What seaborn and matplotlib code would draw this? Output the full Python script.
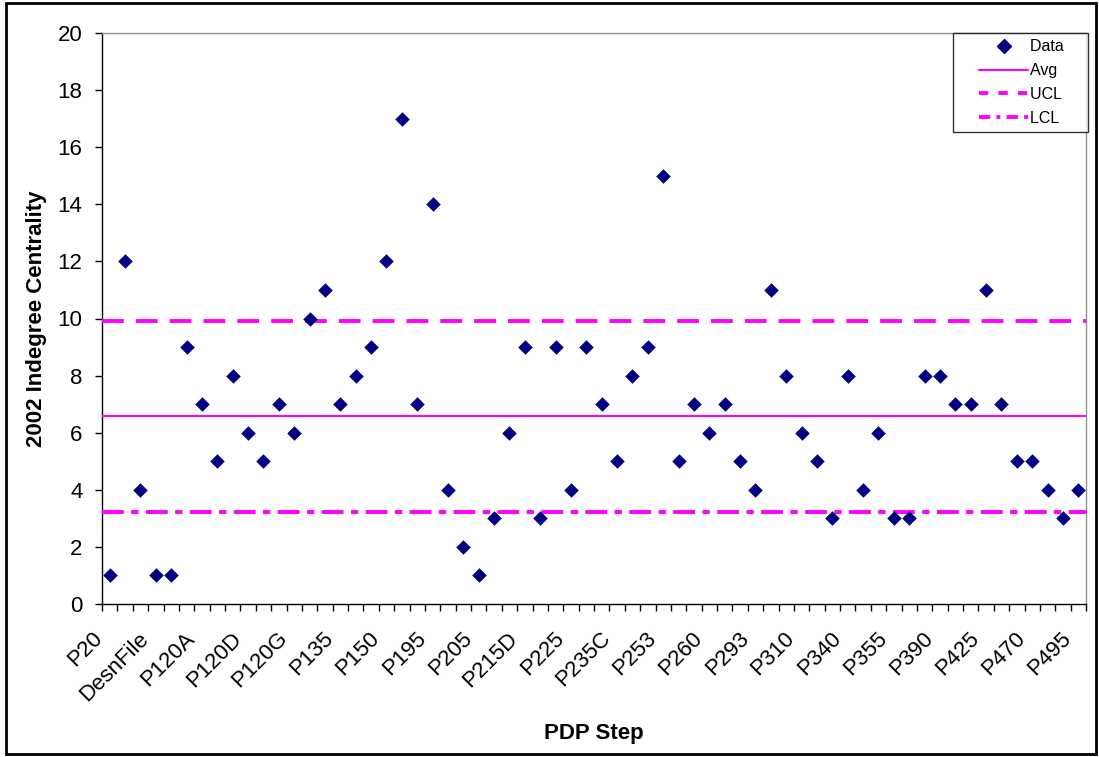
import numpy as np
import pandas as pd
import matplotlib
matplotlib.use("Agg")
import matplotlib.pyplot as plt
import matplotlib.transforms as mtransforms
import seaborn as sns
from matplotlib.lines import Line2D
from matplotlib.patches import Rectangle
from matplotlib.legend_handler import HandlerLine2D

values = [1, 12, 4, 1, 1, 9, 7, 5, 8, 6, 5, 7, 6, 10, 11, 7, 8, 9, 12, 17,
          7, 14, 4, 2, 1, 3, 6, 9, 3, 9, 4, 9, 7, 5, 8, 9, 15, 5, 7, 6,
          7, 5, 4, 11, 8, 6, 5, 3, 8, 4, 6, 3, 3, 8, 8, 7, 7, 11, 7, 5,
          5, 4, 3, 4]
tick_labels = ["P20", "DesnFile", "P120A", "P120D", "P120G", "P135", "P150",
               "P195", "P205", "P215D", "P225", "P235C", "P253", "P260",
               "P293", "P310", "P340", "P355", "P390", "P425", "P470", "P495"]
legend_labels = ["Data", "Avg", "UCL", "LCL"]
avg = float(np.mean(values))
ucl = 9.9
lcl = 3.22

sns.set_theme(style="white")
plt.rcParams['font.family'] = ['Liberation Sans', 'DejaVu Sans']
plt.rcParams['text.color'] = 'black'
plt.rcParams['axes.labelcolor'] = 'black'
plt.rcParams['xtick.color'] = 'black'
plt.rcParams['ytick.color'] = 'black'

fig = plt.figure(figsize=(10.99, 7.57), dpi=100)
ax = fig.add_axes([102/1099, 1-604/757, (1086-102)/1099, (604-33)/757])

df = pd.DataFrame({"idx": np.arange(len(values)), "val": values})
sns.scatterplot(data=df, x="idx", y="val", ax=ax, marker="D", s=55,
                color="#000080", edgecolor="#000080", linewidth=0, zorder=5)

mag = "#FF00FF"
ucl_dash = (5.6, 3.1)
lcl_dash = (5.6, 1.9, 1.9, 1.9)
ax.axhline(avg, color=mag, lw=1.5, zorder=3)
ax.axhline(ucl, color=mag, lw=2.8, dashes=ucl_dash, zorder=3)
ax.axhline(lcl, color=mag, lw=2.8, dashes=lcl_dash, zorder=3)

n = len(values)
ax.set_xlim(-0.5, n - 0.5)
ax.set_ylim(0, 20)
ax.set_yticks(np.arange(0, 21, 2))
ax.set_xticks(np.arange(0, n, 3))
ax.set_xticks(np.arange(-0.5, n, 1), minor=True)
ax.tick_params(axis="x", which="major", length=0, pad=14)
ax.tick_params(axis="x", which="minor", length=5, width=1, color="black", bottom=True)
ax.tick_params(axis="y", which="major", length=5, width=1, color="black", left=True,
               labelsize=16, pad=9)
ax.set_xticklabels(tick_labels, rotation=45, ha="right", va="center",
                   rotation_mode="anchor", fontsize=16)
offset = mtransforms.ScaledTranslation(-10/100, -12/100, fig.dpi_scale_trans)
for lab in ax.xaxis.get_majorticklabels():
    lab.set_transform(lab.get_transform() + offset)

for s in ["left", "bottom"]:
    ax.spines[s].set_color("black")
    ax.spines[s].set_linewidth(1.0)
for s in ["top", "right"]:
    ax.spines[s].set_color("#909090")
    ax.spines[s].set_linewidth(1.0)

ax.set_xlabel("PDP Step", fontsize=16, fontweight="bold")
ax.set_ylabel("2002 Indegree Centrality", fontsize=16, fontweight="bold")
ax.xaxis.set_label_coords(0.5, -(119)/(604-33))
ax.yaxis.set_label_coords(-(102-47)/(1086-102), 0.5)

handles = [
    Line2D([], [], marker="D", color="#000080", linestyle="none", markersize=7),
    Line2D([], [], color=mag, lw=1.5),
    Line2D([], [], color=mag, lw=2.8, dashes=(2.4, 2.6)),
    Line2D([], [], color=mag, lw=2.8, dashes=(2.9, 1.6, 1.0, 1.6)),
]
hm = {h: HandlerLine2D(xpad=1.2) for h in handles}
leg = ax.legend(handles, [l + "    " for l in legend_labels], loc="upper right",
                bbox_to_anchor=(1088/1099, 1-33/757), bbox_transform=fig.transFigure,
                fontsize=11.5, frameon=True, fancybox=False, handlelength=4.3,
                handletextpad=0.1, labelspacing=0.55, borderpad=0.4,
                borderaxespad=0, handler_map=hm)
leg.get_frame().set_edgecolor("black")
leg.get_frame().set_linewidth(1.0)

fig.patches.append(Rectangle((6/1099, 3/757), 1-9/1099, 1-6/757, transform=fig.transFigure,
                             fill=False, edgecolor="black", linewidth=2))

fig.savefig("out.png", dpi=100)
